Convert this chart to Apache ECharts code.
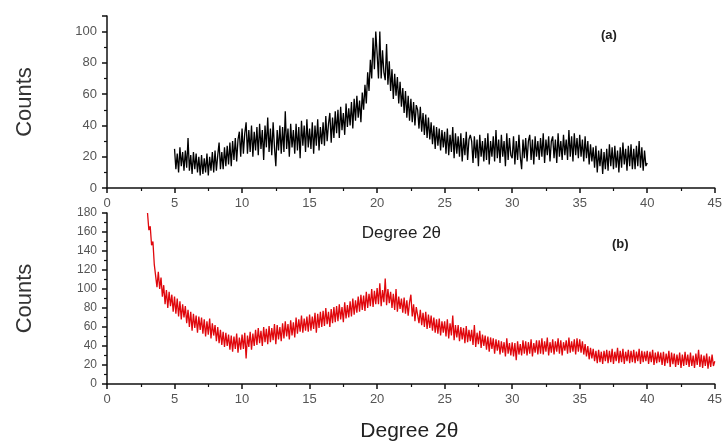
<!DOCTYPE html>
<html>
<head>
<meta charset="utf-8">
<script src="https://cdn.jsdelivr.net/npm/echarts@6/dist/echarts.min.js"></script>
<style>
html,body{margin:0;padding:0;background:#fff;}
#chart{width:725px;height:444px;}
</style>
</head>
<body>
<div id="chart"></div>
<script>
// X-axis tick values (degrees 2θ)
const xTicks = [0, 5, 10, 15, 20, 25, 30, 35, 40, 45];
// Panel (a): scan from 5.0° to 40.0°, 0.1° steps
const startA = 5.0;
const stepA = 0.1;
const countsA = [
  25,12,22,10,26,14,23,11,24,13,
  32,11,21,9,23,12,22,10,20,8,
  21,9,19,10,22,8,20,11,23,10,
  24,11,21,29,12,23,12,26,14,27,
  15,29,14,30,18,32,17,31,36,20,
  38,22,35,42,22,37,23,40,20,36,
  24,39,21,41,25,37,18,40,26,45,
  23,38,21,42,26,14,37,24,40,22,
  39,23,49,25,38,20,41,26,37,22,
  41,24,39,19,43,27,40,23,44,26,
  38,25,42,22,40,27,44,24,39,28,
  42,27,46,30,41,48,29,45,32,49,
  35,50,32,52,37,48,34,54,39,51,
  40,55,38,57,43,59,45,56,42,61,
  50,66,54,74,62,82,70,96,76,100,
  86,70,100,70,88,74,69,92,66,81,
  62,76,57,73,59,71,54,68,52,64,
  48,62,45,59,43,57,42,55,40,53,
  50,38,52,36,48,34,47,32,45,31,
  42,28,40,25,39,27,38,24,37,26,
  36,22,38,21,34,23,39,19,35,22,
  33,20,35,17,32,21,36,18,31,34,
  30,16,33,19,31,14,34,20,30,17,
  32,18,35,15,30,20,33,17,37,19,
  31,16,34,20,30,14,35,18,32,21,
  19,33,15,30,18,34,20,12,31,19,
  32,17,30,34,18,31,15,33,20,30,
  18,32,20,35,16,31,21,33,17,30,
  33,19,31,16,35,20,30,18,34,21,
  31,18,37,20,33,17,35,21,32,19,
  34,20,31,17,33,19,30,15,28,17,
  26,13,27,10,24,14,25,9,23,12,
  25,11,28,14,26,12,27,13,24,10,
  26,13,29,15,25,11,27,14,28,12,
  25,12,27,14,30,13,26,11,24,14,
  16
];
// Panel (b): scan from 3.0° to 45.0°, 0.1° steps
const startB = 3.0;
const stepB = 0.1;
const countsB = [
  180,162,166,146,150,126,124,102,118,100,
  112,92,104,84,99,80,97,82,94,76,
  92,74,90,71,87,68,84,70,82,64,
  78,60,76,56,74,59,72,54,71,57,
  70,53,68,50,66,52,69,48,64,51,
  62,45,60,43,57,41,55,39,54,40,
  52,36,51,34,50,37,53,33,49,36,
  52,37,54,27,51,39,55,36,53,40,
  57,41,59,43,56,40,60,44,58,42,
  61,44,59,46,63,42,62,47,60,45,
  64,48,66,50,63,47,67,51,65,49,
  70,53,68,55,72,54,69,56,71,55,
  73,56,71,58,75,54,74,59,76,60,
  77,61,80,63,76,60,79,64,81,65,
  82,66,84,68,81,65,86,69,83,70,
  87,71,90,73,88,75,92,76,94,78,
  93,77,97,80,95,82,100,81,98,84,
  101,84,106,82,99,86,111,83,100,85,
  97,80,95,78,100,76,92,79,90,75,
  91,74,88,72,86,94,71,84,66,81,
  80,64,78,62,75,60,76,58,73,59,
  72,56,70,54,68,53,69,51,66,54,
  66,50,68,48,64,51,72,46,62,49,
  62,45,60,47,59,43,61,44,57,45,
  57,41,62,39,54,42,56,38,52,40,
  51,36,50,34,49,37,48,32,47,35,
  46,31,45,33,44,29,48,32,43,30,
  44,29,43,25,45,31,42,30,46,32,
  45,30,44,32,47,29,43,33,46,31,
  46,32,48,31,45,34,49,30,44,33,
  47,31,45,34,48,32,46,30,44,35,
  46,32,49,33,45,34,47,31,48,34,
  47,33,45,31,42,29,40,26,38,27,
  37,24,35,22,36,23,34,21,35,24,
  36,22,35,23,37,21,34,24,38,22,
  35,23,37,21,34,24,36,22,35,23,
  36,22,34,24,37,21,35,23,34,24,
  35,21,34,23,36,20,33,22,34,23,
  33,20,34,19,32,22,35,18,33,21,
  32,18,31,20,33,17,31,19,34,20,
  31,18,33,19,30,17,32,20,36,18,
  31,17,30,19,32,16,29,18,31,19,
  24
];
const yTicksA = [0, 20, 40, 60, 80, 100];
const yTicksB = [0, 20, 40, 60, 80, 100, 120, 140, 160, 180];
const xName = 'Degree 2θ';
const yName = 'Counts';
const panelLabels = ['(a)', '(b)'];

const dataA = countsA.map((v, i) => [+(startA + i * stepA).toFixed(2), v]);
const dataB = countsB.map((v, i) => [+(startB + i * stepB).toFixed(2), v]);

const FONT = 'Liberation Sans, Arial, sans-serif';
const axisLineStyle = { color: '#111', width: 1.5 };
const labelStyle = { color: '#555', fontSize: 13, fontFamily: FONT };

function xAxis(gridIndex, nameGap, nameSize, namePad) {
  return {
    type: 'value', gridIndex: gridIndex,
    min: xTicks[0], max: xTicks[xTicks.length - 1], interval: 5,
    axisLine: { show: true, onZero: false, lineStyle: axisLineStyle },
    axisTick: { show: true, length: 5, lineStyle: axisLineStyle },
    minorTick: { show: true, splitNumber: 2, length: 3, lineStyle: { color: '#111', width: 1.2 } },
    splitLine: { show: false },
    axisLabel: Object.assign({ margin: 9 }, labelStyle),
    name: xName, nameLocation: 'middle', nameGap: nameGap,
    nameTextStyle: { color: '#222', fontSize: nameSize, fontFamily: FONT, padding: namePad }
  };
}
function yAxis(gridIndex, ticks, max, fontSize) {
  return {
    type: 'value', gridIndex: gridIndex,
    min: 0, max: max, interval: 20,
    axisLine: { show: true, lineStyle: axisLineStyle },
    axisTick: { show: true, length: 5, lineStyle: axisLineStyle },
    minorTick: { show: true, splitNumber: 2, length: 3, lineStyle: { color: '#111', width: 1.2 } },
    splitLine: { show: false },
    axisLabel: Object.assign({}, labelStyle, {
      fontSize: fontSize, margin: 10, showMaxLabel: ticks.indexOf(max) >= 0,
      formatter: function (v) { return ticks.indexOf(v) >= 0 ? String(v) : ''; }
    }),
    name: yName, nameLocation: 'middle', nameGap: 71, nameRotate: 90,
    nameTextStyle: { color: '#333', fontSize: 22, fontFamily: FONT }
  };
}

const chart = echarts.init(document.getElementById('chart'), null, { renderer: 'canvas' });
chart.setOption({
  animation: false,
  backgroundColor: '#fff',
  grid: [
    { left: 107, right: 10, top: 16, height: 172 },
    { left: 107, right: 9, top: 213, height: 171 }
  ],
  xAxis: [xAxis(0, 37, 17, [0, 19, 0, 0]), xAxis(1, 37, 21, [0, 3, 0, 0])],
  yAxis: [yAxis(0, yTicksA, 110, 13), yAxis(1, yTicksB, 180, 12)],
  graphic: [
    { type: 'text', left: 601, top: 29, style: { text: panelLabels[0], fill: '#222', font: 'bold 13px ' + FONT } },
    { type: 'text', left: 612, top: 238, style: { text: panelLabels[1], fill: '#222', font: 'bold 13px ' + FONT } }
  ],
  series: [
    { type: 'line', xAxisIndex: 0, yAxisIndex: 0, data: dataA, showSymbol: false, sampling: null,
      lineStyle: { color: '#000', width: 1.3 }, itemStyle: { color: '#000' } },
    { type: 'line', xAxisIndex: 1, yAxisIndex: 1, data: dataB, showSymbol: false, sampling: null,
      lineStyle: { color: '#e0070c', width: 1.3 }, itemStyle: { color: '#e0070c' } }
  ]
});
</script>
</body>
</html>
